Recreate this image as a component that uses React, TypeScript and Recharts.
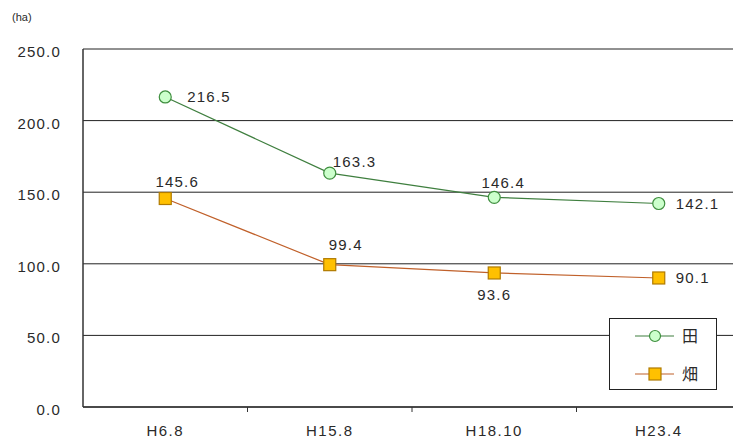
import React from "react";
import { LineChart, Line, XAxis, YAxis, CartesianGrid } from "recharts";

const categories = ["H6.8", "H15.8", "H18.10", "H23.4"];
const paddy = [216.5, 163.3, 146.4, 142.1];
const field = [145.6, 99.4, 93.6, 90.1];
const yTicks = [0, 50, 100, 150, 200, 250];

const data = categories.map((c, i) => ({ name: c, paddy: paddy[i], field: field[i] }));

// label placement per point: [dx, dy, anchor]
const paddyLabelPos: [number, number, string][] = [
  [22, 0, "start"],
  [3, -11, "start"],
  [9, -14, "middle"],
  [17, 0, "start"],
];
const fieldLabelPos: [number, number, string][] = [
  [12, -17, "middle"],
  [16, -20, "middle"],
  [0, 22, "middle"],
  [17, 0, "start"],
];

const FONT = "'Liberation Sans', 'Noto Sans CJK JP', sans-serif";
const TXT = "#2a2a2a";

const makeLabel = (pos: [number, number, string][]) => (props: any) => {
  const { x, y, value, index } = props;
  const p = pos[index];
  return (
    <text
      key={"l" + index}
      x={x + p[0]}
      y={y + p[1]}
      dy={5}
      textAnchor={p[2] as any}
      fontSize={15}
      letterSpacing={1.2}
      fontFamily={FONT}
      fill={TXT}
    >
      {Number(value).toFixed(1)}
    </text>
  );
};

const CircleDot = (props: any) => {
  const { cx, cy } = props;
  return <circle cx={cx} cy={cy} r={6} fill="#ccffcc" stroke="#3f8f3f" strokeWidth={1.2} />;
};
const SquareDot = (props: any) => {
  const { cx, cy } = props;
  return <rect x={cx - 6} y={cy - 6} width={12} height={12} fill="#ffc000" stroke="#b07a00" strokeWidth={1.2} />;
};

const BAND = 164.5;

const XTick = (props: any) => {
  const { x, y, payload, index } = props;
  return (
    <g>
      {index < 3 && (
        <line x1={x + BAND / 2} x2={x + BAND / 2} y1={y - 8} y2={y - 3} stroke="#333" strokeWidth={1} />
      )}
      <text
        x={x}
        y={y + 21}
        textAnchor="middle"
        fontSize={15}
        letterSpacing={1.5}
        fontFamily={FONT}
        fill={TXT}
      >
        {payload.value}
      </text>
    </g>
  );
};

const YTick = (props: any) => {
  const { x, y, payload } = props;
  return (
    <text
      x={x - 14}
      y={y + 8}
      textAnchor="end"
      fontSize={15}
      letterSpacing={1.2}
      fontFamily={FONT}
      fill={TXT}
    >
      {Number(payload.value).toFixed(1)}
    </text>
  );
};

const LegendBox = () => (
  <div
    style={{
      position: "absolute",
      left: 609,
      top: 318,
      width: 108,
      height: 72,
      border: "1px solid #222",
      background: "#fff",
      boxSizing: "border-box",
    }}
  >
    <svg width={108} height={72} style={{ position: "absolute", left: 0, top: 0 }}>
      <line x1={25} x2={64} y1={17} y2={17} stroke="#3f7f3f" strokeWidth={1.2} />
      <circle cx={45} cy={17} r={5.5} fill="#ccffcc" stroke="#3f8f3f" strokeWidth={1.2} />
      <text x={72} y={23} fontSize={16} fontFamily="'Noto Sans CJK JP', sans-serif" fill={TXT}>田</text>
      <line x1={25} x2={64} y1={55} y2={55} stroke="#c0602a" strokeWidth={1.2} />
      <rect x={39} y={49} width={12} height={12} fill="#ffc000" stroke="#b07a00" strokeWidth={1.2} />
      <text x={72} y={61} fontSize={16} fontFamily="'Noto Sans CJK JP', sans-serif" fill={TXT}>畑</text>
    </svg>
  </div>
);

export default function App() {
  return (
    <div
      style={{
        position: "absolute",
        left: 0,
        top: 0,
        width: 733,
        height: 442,
        overflow: "hidden",
        background: "#fff",
      }}
    >
      <div
        style={{
          position: "absolute",
          left: 12,
          top: 11,
          fontSize: 11,
          fontFamily: FONT,
          color: TXT,
        }}
      >
        (ha)
      </div>
      <LineChart
        width={750}
        height={442}
        data={data}
        margin={{ top: 49, right: 9, left: 0, bottom: 0 }}
      >
        <CartesianGrid vertical={false} stroke="#222" strokeWidth={1} />
        <XAxis
          dataKey="name"
          height={35}
          axisLine={{ stroke: "#333", strokeWidth: 1.5 }}
          tickLine={false}
          tick={<XTick />}
          interval={0}
          padding={{ left: BAND / 2, right: BAND / 2 }}
        />
        <YAxis
          width={83}
          domain={[0, 250]}
          ticks={yTicks}
          axisLine={{ stroke: "#333", strokeWidth: 1.5 }}
          tickLine={false}
          tick={<YTick />}
        />
        <Line
          type="linear"
          dataKey="paddy"
          stroke="#3f7f3f"
          strokeWidth={1.2}
          dot={<CircleDot />}
          isAnimationActive={false}
          label={makeLabel(paddyLabelPos)}
        />
        <Line
          type="linear"
          dataKey="field"
          stroke="#c0602a"
          strokeWidth={1.2}
          dot={<SquareDot />}
          isAnimationActive={false}
          label={makeLabel(fieldLabelPos)}
        />
      </LineChart>
      <LegendBox />
    </div>
  );
}
